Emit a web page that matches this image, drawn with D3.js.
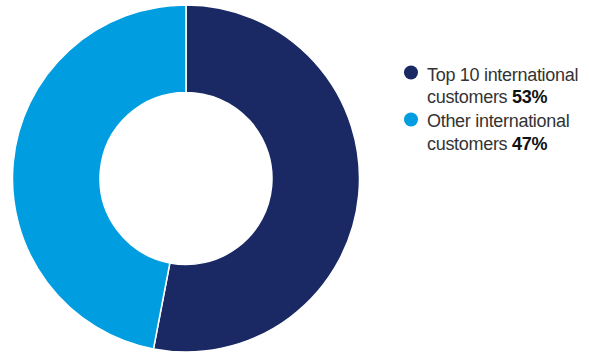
<!DOCTYPE html>
<html>
<head>
<meta charset="utf-8">
<script src="https://cdn.jsdelivr.net/npm/d3@7"></script>
<style>
  html, body { margin: 0; padding: 0; background: #fff; }
  svg { display: block; }
</style>
</head>
<body>
<svg id="chart" width="589" height="353"></svg>
<script>
// Share of international customers
const labels = ["Top 10 international", "Other international"];
const secondLines = ["customers", "customers"];
const shares = [53, 47];
const colors = ["#1a2864", "#009de0"];

const svg = d3.select("#chart");
const cx = 186, cy = 178.5, outerR = 173.5, innerR = 86;

const pie = d3.pie().sort(null).value(d => d)(shares);
const arc = d3.arc().innerRadius(innerR).outerRadius(outerR);

const g = svg.append("g").attr("transform", `translate(${cx},${cy})`);
g.selectAll("path")
  .data(pie)
  .join("path")
  .attr("d", arc)
  .attr("fill", (d, i) => colors[i])
  .attr("stroke", "#fff")
  .attr("stroke-width", 1.5);

// Legend
const legend = svg.append("g").attr("font-family", "'Liberation Sans', Arial, sans-serif")
  .attr("font-size", 18).attr("fill", "#333");
const items = [
  { dot: 72.5, b1: 80.5, b2: 102.5 },
  { dot: 119.5, b1: 127, b2: 149.5 }
];
items.forEach((it, i) => {
  legend.append("circle").attr("cx", 411).attr("cy", it.dot).attr("r", 7).attr("fill", colors[i]);
  legend.append("text").attr("x", 427).attr("y", it.b1)
    .attr("letter-spacing", -0.3).text(labels[i]);
  const t = legend.append("text").attr("x", 427).attr("y", it.b2).attr("letter-spacing", -0.3);
  t.append("tspan").text(secondLines[i] + " ");
  t.append("tspan").attr("font-weight", "bold").attr("fill", "#111").text(shares[i] + "%");
});
</script>
</body>
</html>
